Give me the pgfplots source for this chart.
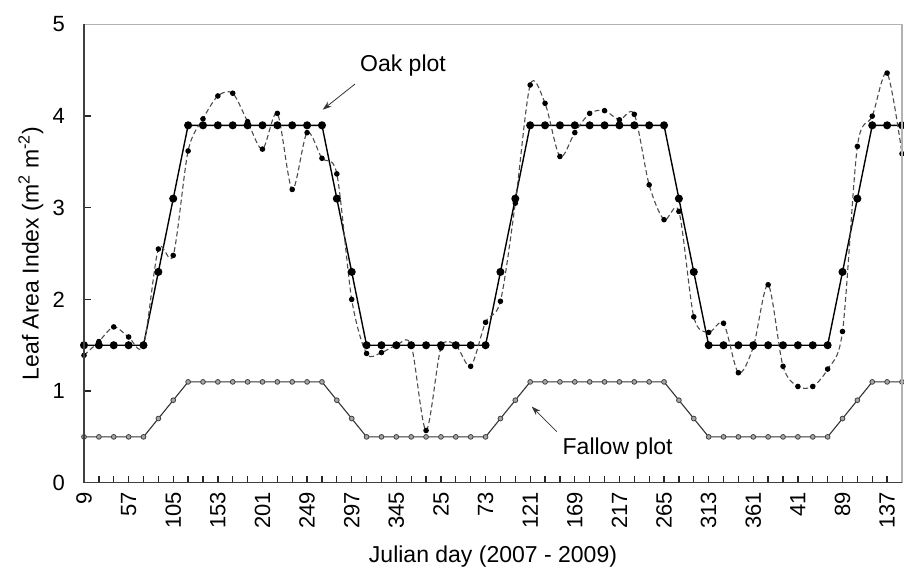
\documentclass[border=0pt]{standalone}
\usepackage{fontspec}
\setmainfont{Liberation Sans}
\usepackage{pgfplots}
\usepackage{pgfplotstable}
\pgfplotsset{compat=1.18}
\usetikzlibrary{arrows.meta}

\pgfplotstableread{
i oak fallow modis
0 1.5 0.5 1.39
1 1.5 0.5 1.54
2 1.5 0.5 1.70
3 1.5 0.5 1.59
4 1.5 0.5 1.50
5 2.3 0.7 2.55
6 3.1 0.9 2.48
7 3.9 1.1 3.62
8 3.9 1.1 3.97
9 3.9 1.1 4.22
10 3.9 1.1 4.25
11 3.9 1.1 3.94
12 3.9 1.1 3.64
13 3.9 1.1 4.03
14 3.9 1.1 3.20
15 3.9 1.1 3.82
16 3.9 1.1 3.54
17 3.1 0.9 3.37
18 2.3 0.7 2.00
19 1.5 0.5 1.41
20 1.5 0.5 1.42
21 1.5 0.5 1.50
22 1.5 0.5 1.50
23 1.5 0.5 0.57
24 1.5 0.5 1.47
25 1.5 0.5 1.50
26 1.5 0.5 1.27
27 1.5 0.5 1.75
28 2.3 0.7 1.98
29 3.1 0.9 3.05
30 3.9 1.1 4.34
31 3.9 1.1 4.14
32 3.9 1.1 3.56
33 3.9 1.1 3.82
34 3.9 1.1 4.03
35 3.9 1.1 4.06
36 3.9 1.1 3.96
37 3.9 1.1 4.02
38 3.9 1.1 3.25
39 3.9 1.1 2.87
40 3.1 0.9 2.96
41 2.3 0.7 1.81
42 1.5 0.5 1.64
43 1.5 0.5 1.74
44 1.5 0.5 1.20
45 1.5 0.5 1.48
46 1.5 0.5 2.16
47 1.5 0.5 1.27
48 1.5 0.5 1.05
49 1.5 0.5 1.05
50 1.5 0.5 1.24
51 2.3 0.7 1.65
52 3.1 0.9 3.67
53 3.9 1.1 4.00
54 3.9 1.1 4.47
55 3.9 1.1 3.59
}\data

\begin{document}
\begin{tikzpicture}
\begin{axis}[
  at={(0,0)}, anchor=south west,
  width=818pt, height=458.2pt, scale only axis,
  xmin=0, xmax=55, ymin=0, ymax=5,
  axis line style={draw=none},
  xtick pos=bottom, ytick pos=left,
  tick align=inside,
  xtick={0,3,...,54},
  xticklabels={9,57,105,153,201,249,297,345,25,73,121,169,217,265,313,361,41,89,137},
  minor xtick={0,...,55},
  ytick={0,1,2,3,4,5},
  major tick length=7pt, minor tick length=7pt,
  every major tick/.append style={draw=black!85, line width=1.3pt},
  every minor tick/.append style={draw=black!85, line width=1.3pt},
  xticklabel style={rotate=90, anchor=east, inner sep=9pt, font=\fontsize{22}{26}\selectfont},
  yticklabel style={inner sep=0pt, xshift=-19pt, font=\fontsize{22}{26}\selectfont},
  /pgf/number format/assume math mode=true,
  xlabel={Julian day (2007 - 2009)},
  ylabel={Leaf Area Index (m\textsuperscript{2} m\textsuperscript{-2})},
  label style={font=\fontsize{23}{27}\selectfont},
  xlabel style={at={(axis description cs:0.5,-0.162)}, anchor=center},
  ylabel style={at={(axis description cs:-0.0648,0.5)}, anchor=center},
]
\addplot[black, line width=1.4pt, mark=*, mark size=3.3pt, mark options={fill=black, draw=black}]
  table[x=i, y=oak]{\data};
\addplot[black!80, line width=1.1pt, mark=*, mark size=2.4pt, mark options={fill=black!35, draw=black!75, line width=0.8pt}]
  table[x=i, y=fallow]{\data};
\addplot[black!70, line width=1.1pt, dash pattern=on 5pt off 3pt, smooth, mark=*, mark size=2.2pt, mark options={solid, fill=black, draw=black}]
  table[x=i, y=modis]{\data};

\draw[-{Stealth[length=9pt,width=6pt]}, black!80, line width=0.8pt] (axis cs:18.22,4.35) -- (axis cs:16.05,4.07);
\node[font=\fontsize{23}{27}\selectfont] at (axis cs:21.45,4.55) {Oak plot};
\draw[-{Stealth[length=9pt,width=6pt]}, black!80, line width=0.8pt] (axis cs:31.79,0.557) -- (axis cs:30.11,0.83);
\node[font=\fontsize{23}{27}\selectfont] at (axis cs:35.88,0.37) {Fallow plot};
\end{axis}
\draw[black!30, line width=1.2pt] (0,458.2pt) -- (818pt,458.2pt) -- (818pt,0);
\draw[black!75, line width=1.2pt] (0,458.2pt) -- (0,0) -- (818pt,0);
\pgfresetboundingbox
\useasboundingbox (-84pt,-87.3pt) rectangle (820pt,482.7pt);
\end{tikzpicture}
\end{document}
